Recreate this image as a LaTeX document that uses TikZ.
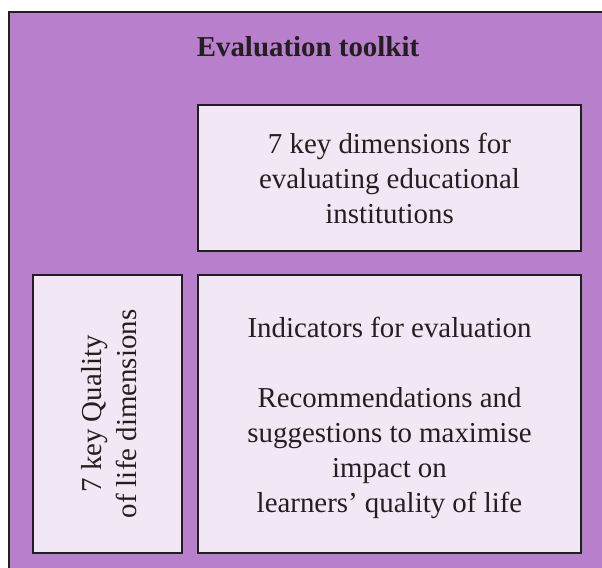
\documentclass[tikz,border=0pt]{standalone}
\usepackage{fontspec}
\setmainfont{Liberation Serif}
\definecolor{outerpurple}{HTML}{B87FCD}
\definecolor{innerfill}{HTML}{F2E7F5}
\definecolor{edge}{HTML}{231F20}
\begin{document}
\begin{tikzpicture}[x=1bp,y=-1bp,
  panel/.style={draw=edge,line width=2.2bp,fill=innerfill},
  txt/.style={align=center,font=\fontsize{29}{35}\selectfont,text=edge,inner sep=0pt,anchor=base}]
\useasboundingbox (0,0) rectangle (602,568);
\fill[white] (0,0) rectangle (602,568);
\fill[outerpurple] (9,12) rectangle (605,571);
\draw[edge,line width=2.2bp] (9,571) -- (9,12) -- (605,12);
\node[font=\fontsize{29}{35}\selectfont\bfseries,text=edge,inner sep=0pt,anchor=base] (title) at (308,57) {Evaluation toolkit};
\draw[panel] (198,105) rectangle (581,251);
\node[txt] (top) at (389.5,223) {7 key dimensions for\\evaluating educational\\institutions};
\draw[panel] (33,275) rectangle (182,553);
\node[txt,rotate=90] (left) at (136,414) {7 key Quality\\of life dimensions};
\draw[panel] (198,275) rectangle (581,553);
\node[txt] (ind) at (389.5,337) {Indicators for evaluation};
\node[txt] (rec) at (389.5,512) {Recommendations and\\suggestions to maximise\\impact on\\learners’ quality of life};
\end{tikzpicture}
\end{document}
